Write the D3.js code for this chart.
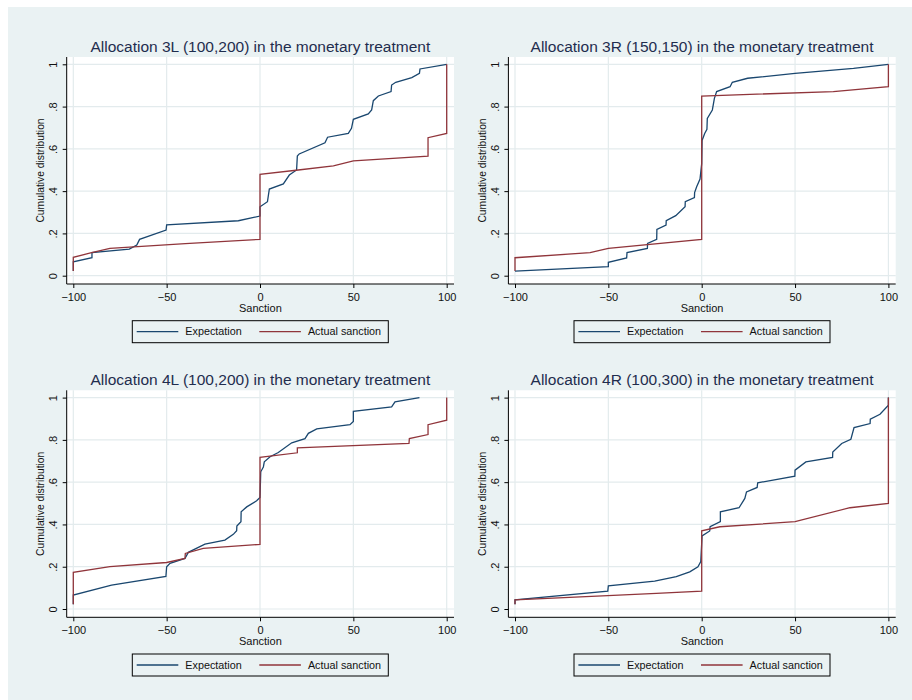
<!DOCTYPE html>
<html>
<head>
<meta charset="utf-8">
<script src="https://cdn.jsdelivr.net/npm/d3@7"></script>
<style>
  body { margin: 0; background: #fff; }
  text { font-family: "Liberation Sans", Arial, sans-serif; }
</style>
</head>
<body>
<div id="chart"></div>
<script>
// panel titles
const titles = [
    'Allocation 3L (100,200) in the monetary treatment',
    'Allocation 3R (150,150) in the monetary treatment',
    'Allocation 4L (100,200) in the monetary treatment',
    'Allocation 4R (100,300) in the monetary treatment'
];
const seriesNames = ['Expectation', 'Actual sanction'];
const xTicks = [-100, -50, 0, 50, 100];
const yTicks = [0, 0.2, 0.4, 0.6, 0.8, 1];
const yTickLabels = ['0', '.2', '.4', '.6', '.8', '1'];

// [sanction, cumulative share]
const exp3L = [[-100, 0.022], [-100, 0.066], [-90, 0.085], [-90, 0.109], [-70, 0.126], [-66, 0.145], [-64.5, 0.172],
    [-50.3, 0.216], [-50, 0.24], [-11.6, 0.26], [0, 0.282], [0, 0.326], [4, 0.35], [5, 0.41], [12.5, 0.434],
    [15.7, 0.476], [19.6, 0.5], [20, 0.566], [21, 0.576], [34.8, 0.629], [36.2, 0.655], [47.3, 0.673], [49, 0.697],
    [50, 0.74], [58, 0.765], [59.8, 0.784], [60.7, 0.828], [63.4, 0.85], [70.2, 0.871], [70.5, 0.902], [72.7, 0.915],
    [81.3, 0.937], [85.4, 0.957], [85.7, 0.978], [100, 1]];
const act3L = [[-100, 0.022], [-100, 0.087], [-90.2, 0.109], [-80.4, 0.129], [-40, 0.152], [0, 0.172], [0, 0.479],
    [20.5, 0.5], [39.3, 0.52], [50, 0.543], [90, 0.566], [90, 0.653], [100, 0.673], [100, 1]];

const exp3R = [[-100, 0.022], [-50, 0.043], [-50, 0.063], [-40.2, 0.084], [-40, 0.109], [-29.1, 0.129], [-29, 0.153],
    [-24.1, 0.172], [-24, 0.219], [-19.1, 0.24], [-19, 0.26], [-13.9, 0.284], [-8.9, 0.326], [-8.8, 0.35],
    [-3.9, 0.369], [-3.8, 0.393], [-2.7, 0.421], [-0.9, 0.457], [0, 0.53], [0.2, 0.64], [1.6, 0.673], [2.8, 0.692],
    [3, 0.744], [5.7, 0.784], [6.8, 0.839], [8, 0.871], [15.2, 0.894], [16.4, 0.915], [24.6, 0.934], [50, 0.957],
    [81.3, 0.981], [100, 1]];
const act3R = [[-100, 0.022], [-100, 0.085], [-59.8, 0.109], [-50, 0.129], [0, 0.172], [0, 0.85], [70.5, 0.871],
    [100, 0.894], [100, 1]];

const exp4L = [[-100, 0.022], [-100, 0.066], [-79.5, 0.113], [-50.4, 0.154], [-50, 0.2], [-48.2, 0.216],
    [-40.2, 0.239], [-38.4, 0.268], [-29.5, 0.307], [-18.8, 0.326], [-14.3, 0.353], [-12.5, 0.37], [-12.4, 0.392],
    [-10.2, 0.413], [-10.1, 0.46], [-7.1, 0.483], [-1.8, 0.512], [0, 0.528], [0.4, 0.649], [1.8, 0.672],
    [2.3, 0.696], [5.4, 0.72], [9.8, 0.74], [17, 0.786], [24.1, 0.806], [25.9, 0.831], [30.4, 0.852], [48.2, 0.872],
    [50, 0.887], [50, 0.935], [70.5, 0.956], [72.3, 0.98], [85.4, 1]];
const act4L = [[-100, 0.022], [-100, 0.173], [-80.4, 0.2], [-50, 0.22], [-40.2, 0.239], [-40, 0.263],
    [-30.4, 0.287], [0, 0.306], [0, 0.717], [20, 0.739], [20, 0.762], [79.8, 0.783], [80, 0.806], [90, 0.825],
    [90, 0.872], [100, 0.893], [100, 1]];

const exp4R = [[-100, 0.022], [-100, 0.043], [-50.3, 0.085], [-50, 0.11], [-25.2, 0.132], [-13.6, 0.153],
    [-6.4, 0.176], [-2, 0.2], [-0.5, 0.224], [0.2, 0.346], [4.3, 0.369], [4.5, 0.389], [10, 0.413], [10, 0.46],
    [20, 0.479], [23.1, 0.523], [24, 0.554], [29.7, 0.575], [30, 0.597], [49.9, 0.628], [50, 0.657], [55.8, 0.696],
    [70.1, 0.717], [70.2, 0.743], [75, 0.783], [79.9, 0.803], [81.6, 0.858], [90.2, 0.877], [90.3, 0.898],
    [95.5, 0.921], [100, 0.964], [100, 1]];
const act4R = [[-100, 0.022], [-100, 0.043], [-50.3, 0.063], [-24.3, 0.074], [0, 0.085], [0, 0.37], [9.7, 0.389],
    [50, 0.413], [79.4, 0.479], [100, 0.5], [100, 1]];

const expSeries = [exp3L, exp3R, exp4L, exp4R];
const actSeries = [act3L, act3R, act4L, act4R];

const svgWidth = 912;
const svgHeight = 700;
const bgColor = '#eaf2f3';
const gridColor = '#e3ebed';
const expColor = '#1a476f';
const actColor = '#90353b';
const titleColor = '#1f2d4e';

// one panel: plot region and data range in panel coords
const plot = { left: 66.7, right: 454, top: 57, bottom: 284 };
const offsets = [[0, 0], [441.7, 0], [0, 333.3], [441.7, 333.3]];

const svg = d3.select('#chart')
    .append('svg')
    .attr('width', svgWidth)
    .attr('height', svgHeight);

svg.append('rect')
    .attr('x', 8).attr('y', 7)
    .attr('width', svgWidth - 8).attr('height', svgHeight - 7)
    .attr('fill', bgColor);

const x = d3.scaleLinear().domain([-100, 100]).range([73.3, 446.7]);
const y = d3.scaleLinear().domain([0, 1]).range([275.7, 64.3]);

const line = d3.line()
    .x(d => x(d[0]))
    .y(d => y(d[1]));

function drawPanel(i) {
    const g = svg.append('g')
        .attr('transform', 'translate(' + offsets[i][0] + ',' + offsets[i][1] + ')');

    g.append('rect')
        .attr('x', plot.left).attr('y', plot.top)
        .attr('width', plot.right - plot.left).attr('height', plot.bottom - plot.top)
        .attr('fill', '#fff');

    // grid
    g.selectAll('.gx').data(xTicks).enter().append('line')
        .attr('x1', d => x(d)).attr('x2', d => x(d))
        .attr('y1', plot.top).attr('y2', plot.bottom)
        .attr('stroke', gridColor).attr('stroke-width', 1.2);
    g.selectAll('.gy').data(yTicks).enter().append('line')
        .attr('x1', plot.left).attr('x2', plot.right)
        .attr('y1', d => y(d)).attr('y2', d => y(d))
        .attr('stroke', gridColor).attr('stroke-width', 1.2);

    g.append('path')
        .datum(expSeries[i])
        .attr('d', line)
        .attr('fill', 'none')
        .attr('stroke', expColor)
        .attr('stroke-width', 1.3);
    g.append('path')
        .datum(actSeries[i])
        .attr('d', line)
        .attr('fill', 'none')
        .attr('stroke', actColor)
        .attr('stroke-width', 1.3);

    // axes
    const xAxis = g.append('g')
        .attr('transform', 'translate(0,' + plot.bottom + ')')
        .call(d3.axisBottom(x).tickValues(xTicks).tickSize(4).tickPadding(5));
    xAxis.select('.domain').remove();
    xAxis.selectAll('text').style('font-size', '11px').attr('fill', '#111');

    const yAxis = g.append('g')
        .attr('transform', 'translate(' + plot.left + ',0)')
        .call(d3.axisLeft(y).tickValues(yTicks).tickSize(4)
            .tickFormat((d, k) => yTickLabels[k]));
    yAxis.select('.domain').remove();
    yAxis.selectAll('text')
        .attr('x', null)
        .attr('transform', 'translate(' + (53 - plot.left) + ',0) rotate(-90)')
        .attr('text-anchor', 'middle')
        .attr('dy', '0.35em')
        .style('font-size', '11px')
        .attr('fill', '#111');

    g.append('line')
        .attr('x1', plot.left).attr('x2', plot.right)
        .attr('y1', plot.bottom).attr('y2', plot.bottom)
        .attr('stroke', '#000');
    g.append('line')
        .attr('x1', plot.left).attr('x2', plot.left)
        .attr('y1', plot.top).attr('y2', plot.bottom)
        .attr('stroke', '#000');

    g.append('text')
        .attr('x', (plot.left + plot.right) / 2)
        .attr('y', 51.5)
        .attr('text-anchor', 'middle')
        .style('font-size', '15.5px')
        .attr('fill', titleColor)
        .text(titles[i]);

    g.append('text')
        .attr('x', (plot.left + plot.right) / 2)
        .attr('y', 308.3)
        .attr('dy', '0.35em')
        .attr('text-anchor', 'middle')
        .style('font-size', '11px')
        .attr('fill', '#111')
        .text('Sanction');

    g.append('text')
        .attr('transform', 'translate(40.7,' + (plot.top + plot.bottom) / 2 + ') rotate(-90)')
        .attr('dy', '0.35em')
        .attr('text-anchor', 'middle')
        .style('font-size', '10.3px')
        .attr('fill', '#111')
        .text('Cumulative distribution');

    // legend
    const lg = g.append('g');
    lg.append('rect')
        .attr('x', 132.3).attr('y', 320.7)
        .attr('width', 256).attr('height', 22)
        .attr('fill', bgColor)
        .attr('stroke', '#000');
    const items = [
        { name: seriesNames[0], color: expColor, x0: 136.7 },
        { name: seriesNames[1], color: actColor, x0: 259.3 }
    ];
    items.forEach(it => {
        lg.append('line')
            .attr('x1', it.x0).attr('x2', it.x0 + 41.6)
            .attr('y1', 331.7).attr('y2', 331.7)
            .attr('stroke', it.color).attr('stroke-width', 1.3);
        lg.append('text')
            .attr('x', it.x0 + 48.6)
            .attr('y', 331.7)
            .attr('dy', '0.35em')
            .style('font-size', '10.8px')
            .attr('fill', '#111')
            .text(it.name);
    });
}

d3.range(4).forEach(drawPanel);
</script>
</body>
</html>
